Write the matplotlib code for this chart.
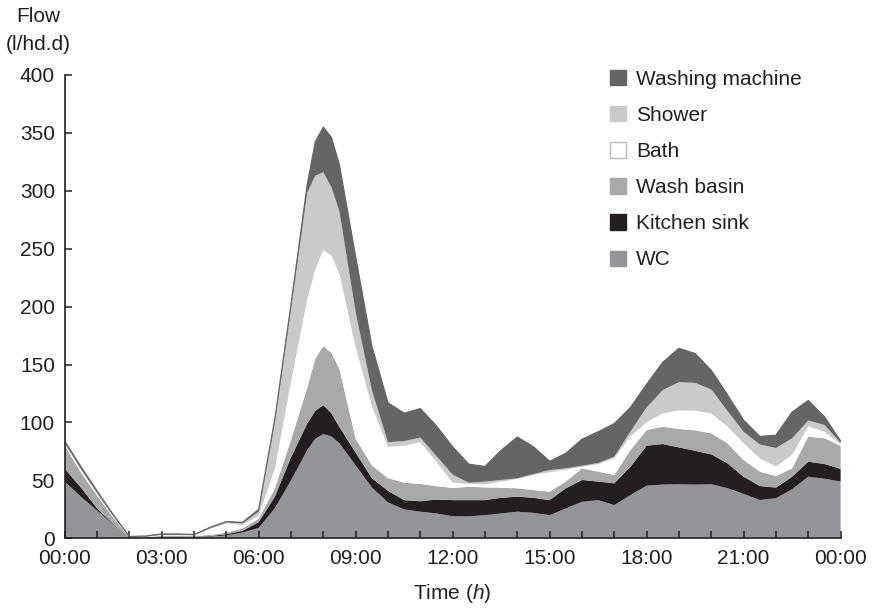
import numpy as np
import matplotlib
matplotlib.use("Agg")
import matplotlib.pyplot as plt
from matplotlib.patches import Patch

plt.rcParams['font.family'] = ['Liberation Sans', 'DejaVu Sans']
plt.rcParams['mathtext.fontset'] = 'custom'
plt.rcParams['mathtext.it'] = 'Liberation Sans:italic'
plt.rcParams['mathtext.rm'] = 'Liberation Sans'

# time of day in hours
hours = [0.0, 0.5, 1.0, 1.5, 2.0, 2.5, 3.0, 3.5, 4.0, 4.5, 5.0, 5.5,
         6.0, 6.5, 7.0, 7.5, 7.75, 8.0, 8.25, 8.5, 9.0, 9.5, 10.0, 10.5, 11.0, 11.5,
         12.0, 12.5, 13.0, 13.5, 14.0, 14.5, 15.0, 15.5, 16.0, 16.5, 17.0, 17.5,
         18.0, 18.5, 19.0, 19.5, 20.0, 20.5, 21.0, 21.5, 22.0, 22.5, 23.0, 23.5, 24.0]

# flows per appliance (l/hd.d)
wc = [49, 36, 24, 12, 0.5, 0.5, 1, 1, 1, 1.5, 2.5, 5,
      9, 26, 50, 76, 86, 90, 88, 82, 63, 44, 31, 25, 23, 21.5,
      19, 19, 20, 21.5, 23, 22, 20, 25.8, 31.5, 33, 28.7, 37.4,
      45.5, 46.4, 46.7, 46.4, 46.7, 43.3, 38.4, 33.1, 34.6, 42.4, 53.2, 51.5, 49]
kitchen_sink = [11, 8, 2, 0.5, 0.2, 0.2, 0.5, 0.5, 0.4, 0.5, 1, 1.5,
                5, 10, 20, 23, 24, 25, 20, 14, 11, 8, 10, 8, 9, 12,
                14, 14, 13, 13.5, 13, 13, 13, 17.4, 18.9, 16, 18.8, 24.4,
                34.5, 35, 31.8, 29.2, 25.8, 21.5, 14.8, 12.1, 9.2, 10.8, 13, 12.7, 11]
wash_basin = [20, 13, 11, 5.5, 0.3, 0.3, 0.7, 0.7, 0.6, 1, 1.5, 2,
              3, 7, 15, 31, 45, 51, 52, 50, 12, 11, 11, 15, 15, 11.5,
              10.5, 11.5, 11, 8.7, 7.2, 6.7, 7.3, 5.8, 10, 8.6, 7.2, 14.5,
              13.5, 15, 15.9, 17.6, 18.1, 17.2, 14.4, 12.4, 10, 7.2, 21.6, 22.2, 20]
bath = [1, 2, 1, 0.7, 0.2, 0.3, 0.5, 0.5, 0.4, 5, 8, 3,
        2.5, 17, 50, 76, 77, 83, 84, 82, 79, 51, 27, 32, 36, 21,
        4.5, 2.5, 2.6, 5.2, 8, 13, 16.7, 10.3, 1.4, 6.3, 14.4, 11.5,
        6.5, 11.5, 16.1, 17, 17.3, 14.4, 14.4, 11.4, 8.1, 11.6, 8.6, 5.7, 1]
shower = [1.5, 1, 1.5, 0.7, 0.2, 0.3, 0.5, 0.5, 0.4, 0.8, 0.8, 1.3,
          3.5, 40, 63, 92, 81, 67, 59, 54, 30, 14, 4, 4, 4, 5,
          7, 1, 2.4, 1.5, 0.6, 0.8, 2, 1.1, 0.9, 1.1, 1.4, 4.4,
          13, 20.1, 24.3, 24, 20.6, 13.6, 10, 12, 16.1, 14.4, 5.3, 5.8, 1.5]
washing_machine = [1.5, 2, 1.5, 1.1, 0.2, 0.4, 0.6, 0.6, 0.5, 0.7, 0.7, 1,
                   2, 3, 4, 7, 29, 39, 43, 40, 48, 38, 34, 24, 25, 26,
                   24, 16, 13, 25.6, 35.7, 23.5, 7.5, 13, 22.8, 27, 28.5, 20.8,
                   20, 24, 29.2, 25.3, 16.5, 14, 10, 7, 11, 22.6, 17.3, 7.1, 1.5]

labels = ['WC', 'Kitchen sink', 'Wash basin', 'Bath', 'Shower', 'Washing machine']
colors = ['#939598', '#231f20', '#a7a9ab', '#ffffff', '#c9cacc', '#646567']

xtick_pos = [0, 3, 6, 9, 12, 15, 18, 21, 24]
xtick_labels = ['00:00', '03:00', '06:00', '09:00', '12:00', '15:00', '18:00', '21:00', '00:00']
ytick_pos = [0, 50, 100, 150, 200, 250, 300, 350, 400]

fig = plt.figure(figsize=(8.72, 6.09), dpi=100)
ax = fig.add_axes([0.0742, 0.116, 0.8898, 0.761])

series = [wc, kitchen_sink, wash_basin, bath, shower, washing_machine]
ax.stackplot(hours, *series, colors=colors, linewidth=0)
total = np.sum(np.array(series), axis=0)
ax.plot(hours, total, color='#646567', lw=0.9)

ax.set_xlim(0, 24)
ax.set_ylim(0, 400)
for s in ['top', 'right']:
    ax.spines[s].set_visible(False)
for s in ['left', 'bottom']:
    ax.spines[s].set_color('#231f20')
    ax.spines[s].set_linewidth(1.2)

ax.set_xticks(xtick_pos)
ax.set_xticklabels(xtick_labels)
ax.set_xticks(range(25), minor=True)
ax.set_yticks(ytick_pos)
ax.tick_params(axis='both', which='both', direction='in', length=5, width=1.1,
               color='#231f20', labelcolor='#231f20', labelsize=15)
ax.tick_params(axis='x', which='major', pad=8)
ax.tick_params(axis='y', which='major', pad=7)

ax.set_xlabel('Time ($\\mathit{h}$)', fontsize=15, color='#231f20', labelpad=10)
fig.text(38.5 / 872, 1 - 16 / 609, 'Flow', ha='center', va='center', fontsize=15, color='#231f20')
fig.text(38.5 / 872, 1 - 44 / 609, '(l/hd.d)', ha='center', va='center', fontsize=15, color='#231f20')

handles = []
for lab, col in zip(labels[::-1], colors[::-1]):
    ec = '#bbbcbe' if col == '#ffffff' else col
    handles.append(Patch(facecolor=col, edgecolor=ec, linewidth=1.0, label=lab))
leg = ax.legend(handles=handles, loc='upper left', bbox_to_anchor=(610 / 872, 1 - 70 / 609),
                bbox_transform=fig.transFigure, frameon=False, fontsize=15,
                handlelength=0.75, handleheight=0.75, handletextpad=0.5, labelspacing=0.82,
                borderaxespad=0, borderpad=0)
for t in leg.get_texts():
    t.set_color('#231f20')

fig.savefig('out.png', dpi=100)
